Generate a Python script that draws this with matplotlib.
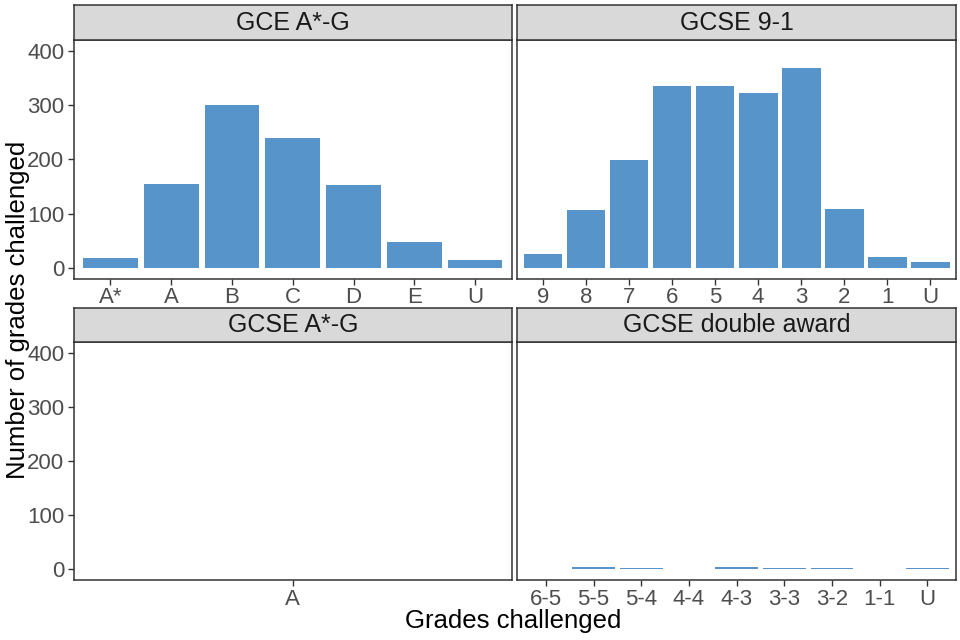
import matplotlib
matplotlib.use('Agg')
import matplotlib.pyplot as plt

plt.rcParams['font.family'] = ['Liberation Sans', 'DejaVu Sans']

# data per panel
gce_grades = ['A*', 'A', 'B', 'C', 'D', 'E', 'U']
gce_counts = [19, 154, 300, 239, 152, 47, 15]

gcse91_grades = ['9', '8', '7', '6', '5', '4', '3', '2', '1', 'U']
gcse91_counts = [26, 107, 198, 335, 335, 322, 368, 109, 20, 11]

gcse_ag_grades = ['A']
gcse_ag_counts = [0]

double_grades = ['6-5', '5-5', '5-4', '4-4', '4-3', '3-3', '3-2', '1-1', 'U']
double_counts = [0, 4, 2, 0, 4, 2, 2, 0, 2]

panels = [
    ('GCE A*-G', gce_grades, gce_counts),
    ('GCSE 9-1', gcse91_grades, gcse91_counts),
    ('GCSE A*-G', gcse_ag_grades, gcse_ag_counts),
    ('GCSE double award', double_grades, double_counts),
]

W, H = 960, 640
fig = plt.figure(figsize=(9.6, 6.4), dpi=100)

# pixel boxes (left, right) and (strip top, plot top, plot bottom)
cols = [(74, 511.5), (517.3, 956)]
rows = [(5, 40, 278.7), (308.3, 341.7, 580.3)]

bar_color = '#5694CA'
edge = '#333333'
tick_fs = 16

for i, (title, grades, counts) in enumerate(panels):
    x0, x1 = cols[i % 2]
    st, pt, pb = rows[i // 2]
    ax = fig.add_axes([x0 / W, 1 - pb / H, (x1 - x0) / W, (pb - pt) / H])
    xs = list(range(len(grades)))
    ax.bar(xs, counts, width=0.9, color=bar_color)
    ax.set_xlim(-0.6, len(grades) - 0.4)
    ax.set_ylim(-20, 420)
    ax.set_xticks(xs)
    ax.set_xticklabels(grades)
    ax.set_yticks([0, 100, 200, 300, 400])
    if i % 2 == 0:
        ax.tick_params(axis='y', labelsize=tick_fs, labelcolor='#4D4D4D', color=edge, length=4, width=1, pad=3)
    else:
        ax.tick_params(axis='y', left=False, labelleft=False)
    ax.tick_params(axis='x', labelsize=tick_fs, labelcolor='#4D4D4D', color=edge, length=4, width=1, pad=2)
    for s in ax.spines.values():
        s.set_color(edge)
        s.set_linewidth(1.1)

    # strip
    sax = fig.add_axes([x0 / W, 1 - pt / H, (x1 - x0) / W, (pt - st) / H])
    sax.set_facecolor('#D9D9D9')
    sax.set_xticks([])
    sax.set_yticks([])
    for s in sax.spines.values():
        s.set_color(edge)
        s.set_linewidth(1.1)
    sax.text(0.5, 0.5, title, ha='center', va='center', fontsize=18,
             color='#1A1A1A', transform=sax.transAxes)

fig.text(18 / W, 1 - 310 / H, 'Number of grades challenged', rotation=90,
         ha='center', va='center', fontsize=18.5)
fig.text(513 / W, 1 - 621 / H, 'Grades challenged', ha='center', va='center',
         fontsize=18.5)

fig.savefig('out.png', dpi=100)
